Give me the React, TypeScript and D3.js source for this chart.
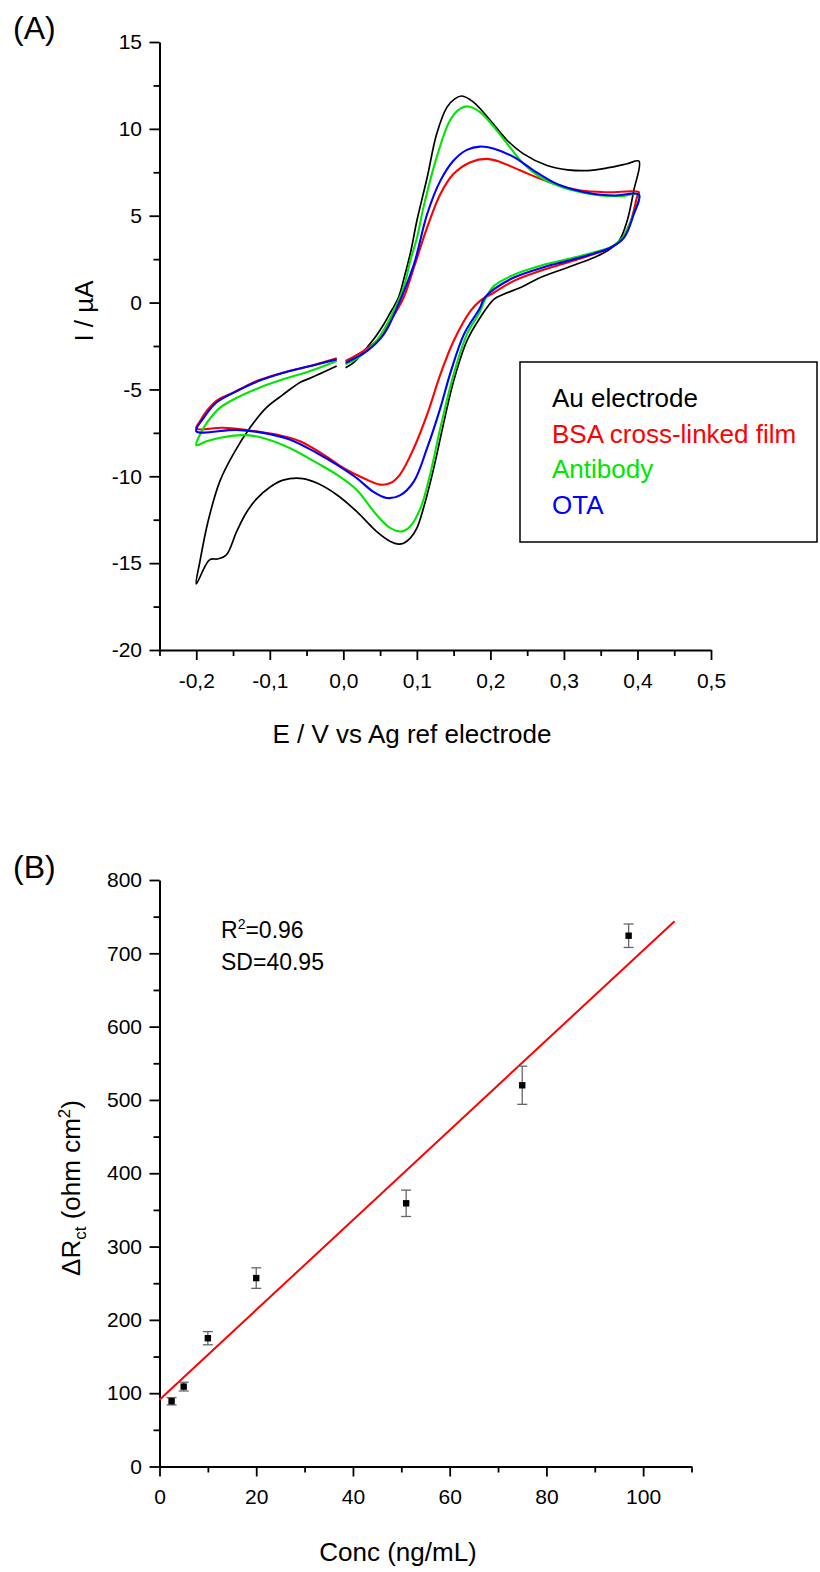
// App.tsx — cyclic voltammograms (A) and calibration plot (B)

import React, { useRef, useEffect } from 'react';
import * as d3 from 'd3';

type Pt = [number, number]; // [E (V), I (µA)]

// ---- Panel A: CV curves (start at 0 V, up to 0.4, back to -0.2, up to 0)
const auElectrode: Pt[] = [
  [0.003, -3.75], [0.014, -3.46], [0.03, -2.7], [0.045, -1.9], [0.055, -1.25], [0.065, -0.5],
  [0.075, 0.29], [0.084, 1.64], [0.092, 3.0], [0.1, 4.71], [0.114, 7.2], [0.127, 9.72],
  [0.141, 11.25], [0.152, 11.74], [0.161, 11.89], [0.177, 11.54], [0.2, 10.48], [0.223, 9.33],
  [0.245, 8.56], [0.277, 7.89], [0.305, 7.64], [0.332, 7.6], [0.359, 7.75], [0.386, 7.99],
  [0.402, 8.14],
  [0.395, 6.45], [0.386, 4.71], [0.375, 3.56], [0.359, 2.98], [0.341, 2.6], [0.305, 2.02],
  [0.268, 1.44], [0.241, 0.87], [0.218, 0.48], [0.205, 0.2], [0.186, -0.87], [0.168, -2.21],
  [0.15, -4.52], [0.136, -7.02], [0.123, -9.52], [0.109, -11.83], [0.1, -12.98], [0.091, -13.56],
  [0.082, -13.85], [0.075, -13.9], [0.064, -13.75], [0.045, -13.17], [0.018, -12.02],
  [-0.009, -11.06], [-0.036, -10.39], [-0.055, -10.13], [-0.082, -10.22], [-0.1, -10.63],
  [-0.118, -11.3], [-0.132, -12.1], [-0.145, -13.17], [-0.159, -14.52], [-0.17, -14.75],
  [-0.182, -14.81], [-0.2, -16.2],
  [-0.195, -14.9], [-0.184, -12.6], [-0.168, -10.29], [-0.15, -8.75], [-0.127, -7.21],
  [-0.105, -6.06], [-0.082, -5.3], [-0.059, -4.6], [-0.045, -4.35], [-0.009, -3.65],
];

const bsaFilm: Pt[] = [
  [0.003, -3.36], [0.027, -2.79], [0.05, -2.02], [0.064, -1.06], [0.082, 0.29], [0.096, 2.02],
  [0.114, 4.33], [0.132, 6.25], [0.15, 7.41], [0.173, 8.08], [0.195, 8.27], [0.214, 8.08],
  [0.241, 7.6], [0.268, 7.12], [0.295, 6.73], [0.323, 6.45], [0.359, 6.35], [0.402, 6.35],
  [0.4, 6.16], [0.391, 4.71], [0.377, 3.56], [0.359, 3.08], [0.341, 2.79], [0.305, 2.31],
  [0.268, 1.83], [0.232, 1.25], [0.205, 0.58], [0.186, 0.1], [0.173, -0.48], [0.15, -2.21],
  [0.132, -4.13], [0.114, -6.44], [0.096, -8.37], [0.077, -9.9], [0.064, -10.39], [0.05, -10.48],
  [0.027, -10.1], [0.0, -9.52], [-0.027, -8.75], [-0.059, -7.98], [-0.091, -7.6], [-0.127, -7.36],
  [-0.164, -7.21], [-0.2, -7.25],
  [-0.195, -6.83], [-0.186, -6.25], [-0.173, -5.67], [-0.15, -5.19], [-0.118, -4.52],
  [-0.082, -4.04], [-0.045, -3.65], [-0.009, -3.21],
];

const antibody: Pt[] = [
  [0.003, -3.56], [0.023, -3.08], [0.045, -2.21], [0.064, -0.87], [0.082, 0.87], [0.091, 2.4],
  [0.1, 3.7], [0.109, 5.48], [0.127, 8.37], [0.145, 10.48], [0.159, 11.16], [0.17, 11.29],
  [0.186, 10.96], [0.205, 10.1], [0.223, 9.14], [0.245, 7.99], [0.268, 7.21], [0.295, 6.68],
  [0.323, 6.35], [0.35, 6.16], [0.377, 6.12], [0.402, 6.21],
  [0.393, 4.9], [0.38, 3.75], [0.364, 3.21], [0.341, 2.89], [0.305, 2.5], [0.268, 2.12],
  [0.232, 1.6], [0.205, 0.96], [0.193, 0.2], [0.186, -0.5], [0.168, -1.83], [0.15, -4.13],
  [0.132, -7.21], [0.118, -9.9], [0.105, -11.83], [0.091, -12.88], [0.08, -13.17], [0.064, -12.98],
  [0.045, -12.21], [0.018, -10.77], [-0.009, -9.9], [-0.036, -9.23], [-0.073, -8.37],
  [-0.109, -7.79], [-0.136, -7.63], [-0.164, -7.75], [-0.186, -7.98], [-0.2, -8.21],
  [-0.195, -7.6], [-0.184, -6.83], [-0.168, -6.06], [-0.145, -5.48], [-0.114, -4.9],
  [-0.082, -4.42], [-0.045, -3.94], [-0.009, -3.36],
];

const ota: Pt[] = [
  [0.003, -3.46], [0.032, -2.79], [0.055, -1.83], [0.073, -0.29], [0.096, 2.2], [0.114, 5.1],
  [0.132, 7.02], [0.15, 8.18], [0.168, 8.79], [0.186, 8.98], [0.205, 8.85], [0.232, 8.37],
  [0.259, 7.6], [0.286, 6.92], [0.314, 6.49], [0.341, 6.25], [0.368, 6.16], [0.402, 6.21],
  [0.395, 5.1], [0.382, 3.75], [0.364, 3.17], [0.341, 2.83], [0.305, 2.4], [0.268, 1.98],
  [0.232, 1.44], [0.205, 0.77], [0.191, 0.2], [0.186, -0.29], [0.164, -1.83], [0.145, -4.13],
  [0.132, -6.06], [0.114, -8.37], [0.096, -10.29], [0.077, -11.1], [0.059, -11.25],
  [0.041, -10.9], [0.018, -10.1], [-0.009, -9.33], [-0.036, -8.66], [-0.073, -7.88],
  [-0.109, -7.5], [-0.145, -7.33], [-0.2, -7.4],
  [-0.19, -6.64], [-0.173, -5.77], [-0.145, -5.1], [-0.109, -4.42], [-0.073, -3.94],
  [-0.036, -3.56], [-0.009, -3.27],
];

const cvNames = ['Au electrode', 'BSA cross-linked film', 'Antibody', 'OTA'];
const cvColors = ['#000000', '#ff0000', '#00e600', '#0000ff'];
const cvCurves = [auElectrode, bsaFilm, antibody, ota];

const cvXTicks = [-0.2, -0.1, 0, 0.1, 0.2, 0.3, 0.4, 0.5];
const cvXMinor = [-0.25, -0.15, -0.05, 0.05, 0.15, 0.25, 0.35, 0.45];
const cvYTicks = [-20, -15, -10, -5, 0, 5, 10, 15];
const cvYMinor = [-17.5, -12.5, -7.5, -2.5, 2.5, 7.5, 12.5];

// ---- Panel B: calibration
const conc = [2.5, 5, 10, 20, 51, 75, 97];
const deltaRct = [89, 109, 175, 257, 359, 520, 724];
const rctErr = [5, 6, 9, 14, 18, 26, 16];
const fitIntercept = 91;
const fitSlope = 6.13;
const fitRange = [0, 106.5];

const calXTicks = [0, 20, 40, 60, 80, 100];
const calXMinor = [10, 30, 50, 70, 90, 110];
const calYTicks = [0, 100, 200, 300, 400, 500, 600, 700, 800];
const calYMinor = [50, 150, 250, 350, 450, 550, 650, 750];

const FONT = "'Liberation Sans', Arial, Helvetica, sans-serif";
const W = 820;
const H = 1572;

const App: React.FC = () => {
  const svgRef = useRef<SVGSVGElement | null>(null);

  useEffect(() => {
    if (!svgRef.current) return;
    const svg = d3.select(svgRef.current);
    svg.selectAll('*').remove();

    const styleAxis = (g: d3.Selection<SVGGElement, unknown, null, undefined>) => {
      g.attr('font-size', 21).attr('font-family', FONT);
      g.select('.domain').attr('stroke-width', 2);
      g.selectAll('.tick line').attr('stroke-width', 1.8);
      g.selectAll('.tick text').attr('fill', '#000');
    };
    const minorAxis = (g: d3.Selection<SVGGElement, unknown, null, undefined>) => {
      g.select('.domain').remove();
      g.selectAll('.tick line').attr('stroke-width', 1.8);
    };

    // =========== Panel A ===========
    const xA = d3.scaleLinear().domain([-0.25, 0.5]).range([159.5, 711]);
    const yA = d3.scaleLinear().domain([-20, 15]).range([650, 42]);
    const commaFmt = (d: d3.NumberValue) => (+d).toFixed(1).replace('.', ',');

    const gA = svg.append('g');

    gA.append('g')
      .attr('transform', `translate(0,${yA(-20)})`)
      .call(d3.axisBottom(xA).tickValues(cvXMinor).tickSize(6).tickFormat(() => ''))
      .call(minorAxis);
    gA.append('g')
      .attr('transform', `translate(${xA(-0.25)},0)`)
      .call(d3.axisLeft(yA).tickValues(cvYMinor).tickSize(6).tickFormat(() => ''))
      .call(minorAxis);

    gA.append('g')
      .attr('transform', `translate(0,${yA(-20)})`)
      .call(d3.axisBottom(xA).tickValues(cvXTicks).tickSize(10).tickSizeOuter(0).tickPadding(13).tickFormat(commaFmt))
      .call(styleAxis);
    gA.append('g')
      .attr('transform', `translate(${xA(-0.25)},0)`)
      .call(d3.axisLeft(yA).tickValues(cvYTicks).tickSize(10).tickSizeOuter(0).tickPadding(7.5).tickFormat(d => String(d)))
      .call(styleAxis);

    const cvLine = d3.line<Pt>()
      .x(d => xA(d[0]))
      .y(d => yA(d[1]))
      .curve(d3.curveCatmullRom.alpha(0.5));

    cvCurves.forEach((pts, i) => {
      gA.append('path')
        .datum(pts)
        .attr('fill', 'none')
        .attr('stroke', cvColors[i])
        .attr('stroke-width', i === 0 ? 1.7 : 2.1)
        .attr('stroke-linejoin', 'round')
        .attr('d', cvLine);
    });

    // legend
    const leg = gA.append('g');
    leg.append('rect')
      .attr('x', 520).attr('y', 362).attr('width', 297).attr('height', 180)
      .attr('fill', '#fff').attr('stroke', '#000').attr('stroke-width', 1.5);
    cvNames.forEach((name, i) => {
      leg.append('text')
        .attr('x', 552).attr('y', 407 + i * 35.5)
        .attr('font-family', FONT).attr('font-size', 26)
        .attr('fill', cvColors[i])
        .text(name);
    });

    gA.append('text')
      .attr('x', 412).attr('y', 743)
      .attr('text-anchor', 'middle')
      .attr('font-family', FONT).attr('font-size', 26)
      .text('E / V vs Ag ref electrode');

    gA.append('text')
      .attr('transform', 'translate(93,311) rotate(-90)')
      .attr('text-anchor', 'middle')
      .attr('font-family', FONT).attr('font-size', 26)
      .text('I / µA');

    gA.append('text')
      .attr('x', 13).attr('y', 39)
      .attr('font-family', FONT).attr('font-size', 32)
      .text('(A)');

    // =========== Panel B ===========
    const xB = d3.scaleLinear().domain([0, 110]).range([159.5, 691.5]);
    const yB = d3.scaleLinear().domain([0, 800]).range([1466.5, 880]);

    const gB = svg.append('g');

    gB.append('g')
      .attr('transform', `translate(0,${yB(0)})`)
      .call(d3.axisBottom(xB).tickValues(calXMinor).tickSize(6).tickFormat(() => ''))
      .call(minorAxis);
    gB.append('g')
      .attr('transform', `translate(${xB(0)},0)`)
      .call(d3.axisLeft(yB).tickValues(calYMinor).tickSize(6).tickFormat(() => ''))
      .call(minorAxis);

    gB.append('g')
      .attr('transform', `translate(0,${yB(0)})`)
      .call(d3.axisBottom(xB).tickValues(calXTicks).tickSize(10).tickSizeOuter(0).tickPadding(13).tickFormat(d => String(d)))
      .call(styleAxis);
    gB.append('g')
      .attr('transform', `translate(${xB(0)},0)`)
      .call(d3.axisLeft(yB).tickValues(calYTicks).tickSize(10).tickSizeOuter(0).tickPadding(7.5).tickFormat(d => String(d)))
      .call(styleAxis);

    // linear fit
    const fitLine = d3.line<number>()
      .x(d => xB(d))
      .y(d => yB(fitIntercept + fitSlope * d));
    gB.append('path')
      .datum(fitRange)
      .attr('fill', 'none')
      .attr('stroke', '#ff0000')
      .attr('stroke-width', 2)
      .attr('d', fitLine);

    // error bars + points
    const pts = conc.map((c, i) => ({ c, v: deltaRct[i], e: rctErr[i] }));
    const eb = gB.append('g').attr('stroke', '#666').attr('stroke-width', 1.3);
    pts.forEach(p => {
      const x = xB(p.c);
      eb.append('line').attr('x1', x).attr('x2', x).attr('y1', yB(p.v - p.e)).attr('y2', yB(p.v + p.e));
      eb.append('line').attr('x1', x - 5).attr('x2', x + 5).attr('y1', yB(p.v - p.e)).attr('y2', yB(p.v - p.e));
      eb.append('line').attr('x1', x - 5).attr('x2', x + 5).attr('y1', yB(p.v + p.e)).attr('y2', yB(p.v + p.e));
    });
    gB.selectAll('rect.pt')
      .data(pts)
      .enter()
      .append('rect')
      .attr('class', 'pt')
      .attr('x', d => xB(d.c) - 3.2)
      .attr('y', d => yB(d.v) - 3.2)
      .attr('width', 6.4)
      .attr('height', 6.4)
      .attr('fill', '#000');

    // annotation
    const r2 = gB.append('text')
      .attr('x', 221).attr('y', 938)
      .attr('font-family', FONT).attr('font-size', 23);
    r2.append('tspan').text('R');
    r2.append('tspan').attr('font-size', 14).attr('dy', -9).text('2');
    r2.append('tspan').attr('dy', 9).text('=0.96');
    gB.append('text')
      .attr('x', 221).attr('y', 970)
      .attr('font-family', FONT).attr('font-size', 23)
      .text('SD=40.95');

    gB.append('text')
      .attr('x', 398).attr('y', 1561)
      .attr('text-anchor', 'middle')
      .attr('font-family', FONT).attr('font-size', 26)
      .text('Conc (ng/mL)');

    const yt = gB.append('text')
      .attr('transform', 'translate(80,1188) rotate(-90)')
      .attr('text-anchor', 'middle')
      .attr('font-family', FONT).attr('font-size', 26);
    yt.append('tspan').text('ΔR');
    yt.append('tspan').attr('font-size', 17).attr('dy', 6).text('ct');
    yt.append('tspan').attr('dy', -6).text(' (ohm cm');
    yt.append('tspan').attr('font-size', 17).attr('dy', -10).text('2');
    yt.append('tspan').attr('dy', 10).text(')');

    gB.append('text')
      .attr('x', 13).attr('y', 878)
      .attr('font-family', FONT).attr('font-size', 32)
      .text('(B)');
  }, []);

  return (
    <svg
      ref={svgRef}
      width={W}
      height={H}
      style={{ position: 'absolute', left: 0, top: 0, display: 'block', background: '#fff' }}
    />
  );
};

export default App;
